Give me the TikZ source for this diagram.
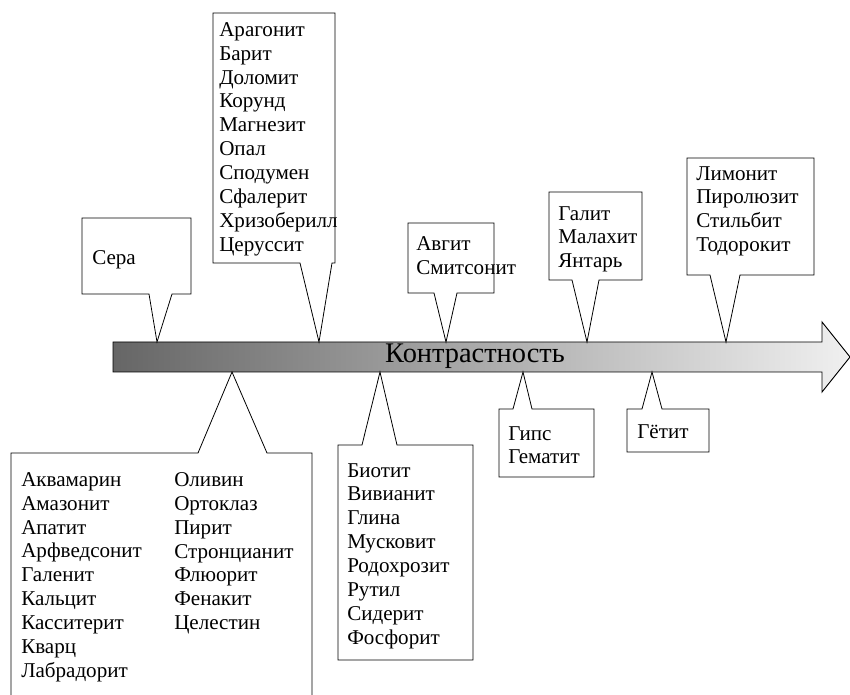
\documentclass[tikz,border=0pt]{standalone}
\usepackage{fontspec}
\setmainfont{Liberation Serif}
\usetikzlibrary{calc}

\tikzset{
  callout/.style={draw=black, line width=0.6pt, line join=miter},
  minlist/.style={font=\fontsize{15.8}{17.95}\selectfont, align=left, anchor=north west, inner sep=0pt},
}

\begin{document}
\begin{tikzpicture}[x=0.75pt, y=-0.75pt]
  \useasboundingbox (0,0) rectangle (850,695);

  \shadedraw[left color=black!60, right color=black!6, draw=black, line width=0.7pt]
    (113,342) -- (822,342) -- (822,322) -- (850,357) -- (822,392) -- (822,372) -- (113,372) -- cycle;
  \node[font=\fontsize{21.3}{24}\selectfont] (kontrast) at (475,356) {Контрастность};

  \coordinate (tSera) at (157,342);
  \coordinate (tArag) at (319,342);
  \coordinate (tAvg)  at (446,342);
  \coordinate (tGal)  at (587,342);
  \coordinate (tLim)  at (726,342);
  \coordinate (tAkv)  at (232,372);
  \coordinate (tBio)  at (380,372);
  \coordinate (tGips) at (523,372);
  \coordinate (tGoet) at (652,372);

  \foreach \l/\t/\r/\b/\pa/\pb/\tip in {82/218/191/294/149/172/tSera, 213/13/335/263/300/332/tArag,
      408/223/494/293/434/457/tAvg, 549/192/642/280/572/599/tGal, 687/158/814/275/710/740/tLim}{
    \draw[callout] (\l,\t) -- (\r,\t) -- (\r,\b) -- (\pb,\b) -- (\tip) -- (\pa,\b) -- (\l,\b) -- cycle;
  }

  \foreach \l/\t/\r/\b/\pa/\pb/\tip in {338/445/473/660/362/397/tBio, 499/409/594/477/513/532/tGips,
      627/409/709/452/642/662/tGoet}{
    \draw[callout] (\l,\b) -- (\r,\b) -- (\r,\t) -- (\pb,\t) -- (\tip) -- (\pa,\t) -- (\l,\t) -- cycle;
  }

  \draw[callout] (11,695) -- (11,453) -- (198,453) -- (tAkv) -- (267,453) -- (312,453) -- (312,695);

  \node[minlist] (sera) at (92,250) {Сера};
  \node[minlist] (arag) at (219,22) {Арагонит\\Барит\\Доломит\\Корунд\\Магнезит\\Опал\\Сподумен\\Сфалерит\\Хризоберилл\\Церуссит};
  \node[minlist] (avgit) at (416,236) {Авгит\\Смитсонит};
  \node[minlist] (galit) at (558,206) {Галит\\Малахит\\Янтарь};
  \node[minlist] (limonit) at (696,166) {Лимонит\\Пиролюзит\\Стильбит\\Тодорокит};
  \node[minlist] (akvL) at (21,472) {Аквамарин\\Амазонит\\Апатит\\Арфведсонит\\Галенит\\Кальцит\\Касситерит\\Кварц\\Лабрадорит};
  \node[minlist] (akvR) at (174,472) {Оливин\\Ортоклаз\\Пирит\\Стронцианит\\Флюорит\\Фенакит\\Целестин};
  \node[minlist] (biotit) at (347,463) {Биотит\\Вивианит\\Глина\\Мусковит\\Родохрозит\\Рутил\\Сидерит\\Фосфорит};
  \node[minlist] (gips) at (508,426) {Гипс\\Гематит};
  \node[minlist, anchor=base west] (goetit) at (637,438) {Гётит};

\end{tikzpicture}
\end{document}
